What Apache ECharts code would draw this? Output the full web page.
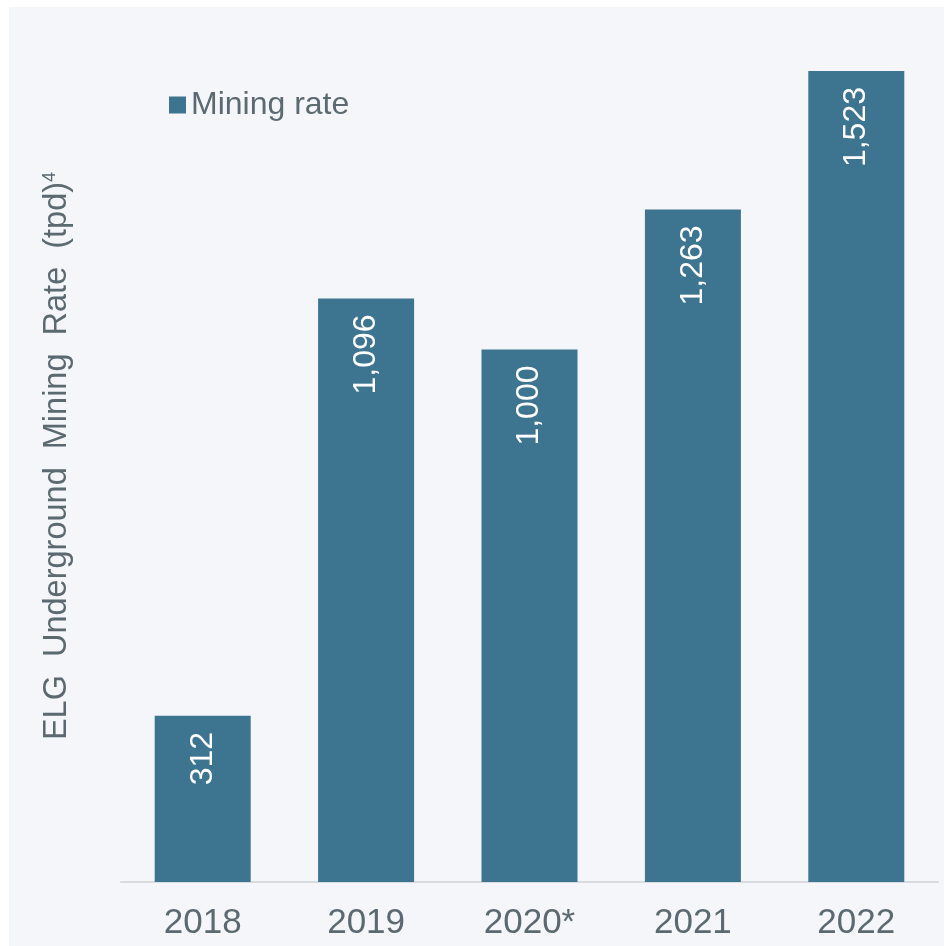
<!DOCTYPE html>
<html>
<head>
<meta charset="utf-8">
<script src="https://cdn.jsdelivr.net/npm/echarts@6/dist/echarts.min.js"></script>
<style>
html,body{margin:0;padding:0;background:#ffffff;}
#chart{width:944px;height:946px;}
</style>
</head>
<body>
<div id="chart"></div>
<script>
var categories = ['2018', '2019', '2020*', '2021', '2022'];
var miningRate = [312, 1096, 1000, 1263, 1523];
var seriesName = 'Mining rate';
var yAxisTitle = 'ELG  Underground  Mining  Rate  (tpd)';

var textColor = '#5b6a71';
var barColor = '#3d7490';
var fontFam = '"Liberation Sans", Arial, sans-serif';

var chart = echarts.init(document.getElementById('chart'));
chart.setOption({
  backgroundColor: '#ffffff',
  animation: false,
  graphic: [{
    type: 'rect', z: -10, silent: true,
    shape: {x: 9, y: 7, width: 935, height: 939},
    style: {fill: '#f5f6fa'}
  }],
  legend: {
    data: [seriesName],
    left: 164, top: 84,
    icon: 'rect', itemWidth: 17, itemHeight: 17, itemGap: 10,
    textStyle: {color: textColor, fontSize: 32, fontFamily: fontFam}
  },
  grid: {left: 121, right: 6, top: 30, bottom: 64, containLabel: false},
  xAxis: {
    type: 'category',
    data: categories,
    axisLine: {show: true, lineStyle: {color: '#d8dbe0', width: 2}},
    axisTick: {show: false},
    axisLabel: {color: textColor, fontSize: 35, fontFamily: fontFam, margin: 24}
  },
  yAxis: {
    type: 'value',
    min: 0, max: 1600,
    axisLine: {show: false}, axisTick: {show: false},
    axisLabel: {show: false}, splitLine: {show: false},
    name: yAxisTitle + '{sup|4}',
    nameLocation: 'middle', nameRotate: 90, nameGap: 47,
    nameTextStyle: {
      color: textColor, fontSize: 32.5, fontFamily: fontFam,
      rich: {sup: {fontSize: 18, color: textColor, fontFamily: fontFam, verticalAlign: 'top', padding: [0, 0, 14, 0]}}
    }
  },
  series: [{
    name: seriesName,
    type: 'bar',
    data: miningRate,
    barWidth: 96,
    itemStyle: {color: barColor},
    label: {
      show: true,
      position: 'insideTop',
      rotate: 90,
      align: 'right',
      verticalAlign: 'middle',
      distance: 16,
      color: '#ffffff',
      fontSize: 32,
      fontFamily: fontFam,
      formatter: function (p) { return p.value.toLocaleString('en-US'); }
    }
  }]
});
</script>
</body>
</html>
